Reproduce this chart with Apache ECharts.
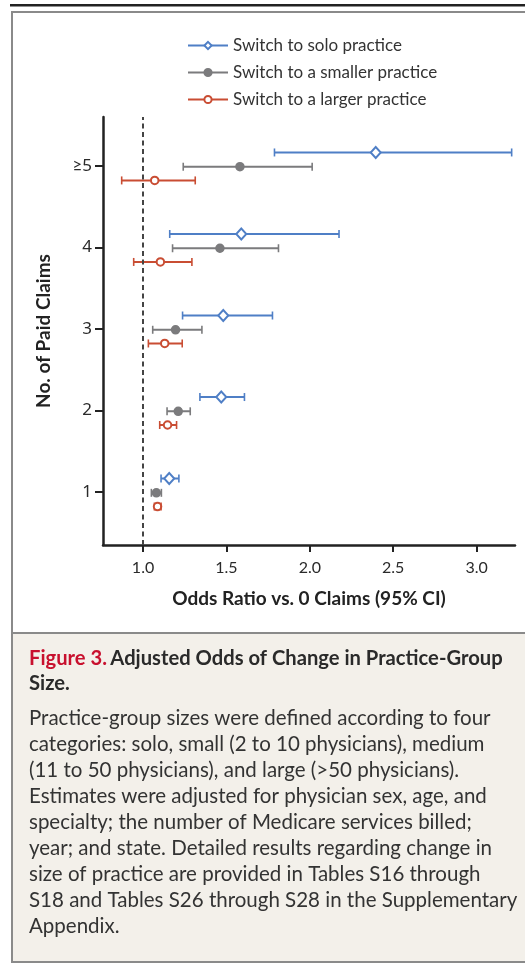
<!DOCTYPE html>
<html>
<head>
<meta charset="utf-8">
<title>Figure 3</title>
<script src="https://cdn.jsdelivr.net/npm/echarts@6/dist/echarts.min.js"></script>
<style>
  html, body { margin: 0; padding: 0; background: #fff; }
</style>
</head>
<body>
<div id="main" style="width: 525px; height: 967px;"></div>
<script type="text/javascript">
    var myChart = echarts.init(document.getElementById('main'));

    // rows of the y axis (1 at the bottom)
    var rowLabels = ['1', '2', '3', '4', '≥5'];
    var xTicks = [1.0, 1.5, 2.0, 2.5, 3.0];

    // odds ratios, rows 1..≥5
    var soloEst = [1.157, 1.469, 1.481, 1.589, 2.395];
    var soloLo  = [1.108, 1.341, 1.237, 1.160, 1.788];
    var soloHi  = [1.215, 1.608, 1.776, 2.175, 3.210];

    var smallerEst = [1.080, 1.211, 1.195, 1.461, 1.581];
    var smallerLo  = [1.050, 1.144, 1.058, 1.177, 1.241];
    var smallerHi  = [1.110, 1.283, 1.353, 1.812, 2.014];

    var largerEst = [1.087, 1.147, 1.130, 1.104, 1.070];
    var largerLo  = [1.068, 1.100, 1.032, 0.944, 0.872];
    var largerHi  = [1.108, 1.201, 1.235, 1.293, 1.313];

    var groups = [
        { name: 'Switch to solo practice', est: soloEst, lo: soloLo, hi: soloHi,
          color: '#4f7fc6', symbol: 'emptyDiamond', size: [10, 11], shift: 0.165 },
        { name: 'Switch to a smaller practice', est: smallerEst, lo: smallerLo, hi: smallerHi,
          color: '#7b7b7d', symbol: 'circle', size: 8, shift: -0.01 },
        { name: 'Switch to a larger practice', est: largerEst, lo: largerLo, hi: largerHi,
          color: '#c94d33', symbol: 'emptyCircle', size: 7.5, shift: -0.178 }
    ];

    // one small line series per row and group: cap - estimate - cap
    var series = [];
    groups.forEach(function (g, gi) {
        for (var i = 0; i < rowLabels.length; i++) {
            var y = i + 1 + g.shift;
            var cap = { symbol: 'rect', symbolSize: [1.6, 8], itemStyle: { color: g.color, borderWidth: 0 } };
            series.push({
                name: g.name,
                type: 'line',
                symbol: g.symbol,
                symbolSize: g.size,
                showAllSymbol: true,
                color: g.color,
                lineStyle: { color: g.color, width: 2 },
                itemStyle: { color: g.color, borderColor: g.color, borderWidth: 1.5 },
                z: 3,
                animation: false,
                data: [
                    Object.assign({ value: [g.lo[i], y] }, cap),
                    { value: [g.est[i], y] },
                    Object.assign({ value: [g.hi[i], y] }, cap)
                ],
                // reference line at an odds ratio of 1
                markLine: (gi === 1 && i === 0) ? {
                    silent: true,
                    symbol: 'none',
                    label: { show: false },
                    lineStyle: { color: '#444', width: 2, type: [5, 3.5] },
                    data: [{ xAxis: 1 }]
                } : undefined
            });
        }
    });

    var captionBody = [
        'Practice-group sizes were defined according to four',
        'categories: solo, small (2 to 10 physicians), medium',
        '(11 to 50 physicians), and large (>50 physicians).',
        'Estimates were adjusted for physician sex, age, and',
        'specialty; the number of Medicare services billed;',
        'year; and state. Detailed results regarding change in',
        'size of practice are provided in Tables S16 through',
        'S18 and Tables S26 through S28 in the Supplementary',
        'Appendix.'
    ];

    var font = 'Lato, "Noto Sans", sans-serif';

    function near(v, step) {
        return Math.abs(v / step - Math.round(v / step)) < 1e-6;
    }

    option = {
        animation: false,
        textStyle: { fontFamily: font },
        grid: { left: 103, right: 10, top: 117, bottom: 422 },
        legend: {
            orient: 'vertical',
            left: 182,
            top: 32,
            itemWidth: 40,
            itemHeight: 9,
            itemGap: 10,
            textStyle: { fontSize: 17, color: '#333', fontFamily: font },
            data: groups.map(function (g) { return g.name; })
        },
        xAxis: {
            type: 'value',
            min: 0.76,
            max: 3.23,
            interval: 0.02,
            splitLine: { show: false },
            axisLine: { onZero: false, lineStyle: { color: '#222', width: 2.5 } },
            axisTick: { show: true, length: 7, customValues: xTicks, lineStyle: { color: '#222', width: 2 } },
            axisLabel: {
                margin: 15,
                fontSize: 16,
                color: '#2a2a2a',
                showMinLabel: false,
                showMaxLabel: false,
                formatter: function (v) {
                    return (v >= 0.999 && near(v, 0.5)) ? v.toFixed(1) : '';
                }
            },
            name: 'Odds Ratio vs. 0 Claims (95% CI)',
            nameLocation: 'middle',
            nameGap: 44,
            nameTextStyle: { fontSize: 19, fontWeight: 'bold', color: '#222' }
        },
        yAxis: {
            type: 'value',
            min: 0.35,
            max: 5.6,
            interval: 0.05,
            splitLine: { show: false },
            axisLine: { onZero: false, lineStyle: { color: '#222', width: 2.5 } },
            axisTick: { show: true, length: 8, customValues: [1, 2, 3, 4, 5], lineStyle: { color: '#222', width: 2 } },
            axisLabel: {
                margin: 11,
                fontSize: 17,
                color: '#2a2a2a',
                fontFamily: '"Noto Sans", Lato, sans-serif',
                showMinLabel: false,
                showMaxLabel: false,
                formatter: function (v) {
                    return near(v, 1) ? rowLabels[Math.round(v) - 1] : '';
                }
            },
            name: 'No. of Paid Claims',
            nameLocation: 'middle',
            nameRotate: 90,
            nameGap: 50,
            nameTextStyle: { fontSize: 19, fontWeight: 'bold', color: '#222' }
        },
        graphic: [
            // rule at the very top
            { type: 'rect', z: -10, shape: { x: 10, y: 4, width: 520, height: 2.5 }, style: { fill: '#222' } },
            // outer frame
            { type: 'rect', z: -10, shape: { x: 12, y: 12, width: 600, height: 950 },
              style: { fill: '#fff', stroke: '#8a8a8a', lineWidth: 2 } },
            // caption box
            { type: 'rect', z: -9, shape: { x: 12, y: 633, width: 600, height: 329 },
              style: { fill: '#f3f0ea', stroke: '#8a8a8a', lineWidth: 2 } },
            {
                type: 'text', left: 29, top: 646, z: 5,
                style: {
                    text: '{r|Figure 3.} {b|Adjusted Odds of Change in Practice-Group}\n{b|Size.}',
                    lineHeight: 25,
                    rich: {
                        r: { fill: '#c8102e', fontSize: 20.2, fontWeight: 'bold', fontFamily: font, lineHeight: 25 },
                        b: { fill: '#2a2a2a', fontSize: 20.2, fontWeight: 'bold', fontFamily: font, lineHeight: 25 }
                    }
                }
            },
            {
                type: 'text', left: 29, top: 705, z: 5,
                style: {
                    text: captionBody.join('\n'),
                    fill: '#333', fontSize: 20.5, fontFamily: font, lineHeight: 26
                }
            }
        ],
        series: series
    };

    myChart.setOption(option);
</script>
</body>
</html>
